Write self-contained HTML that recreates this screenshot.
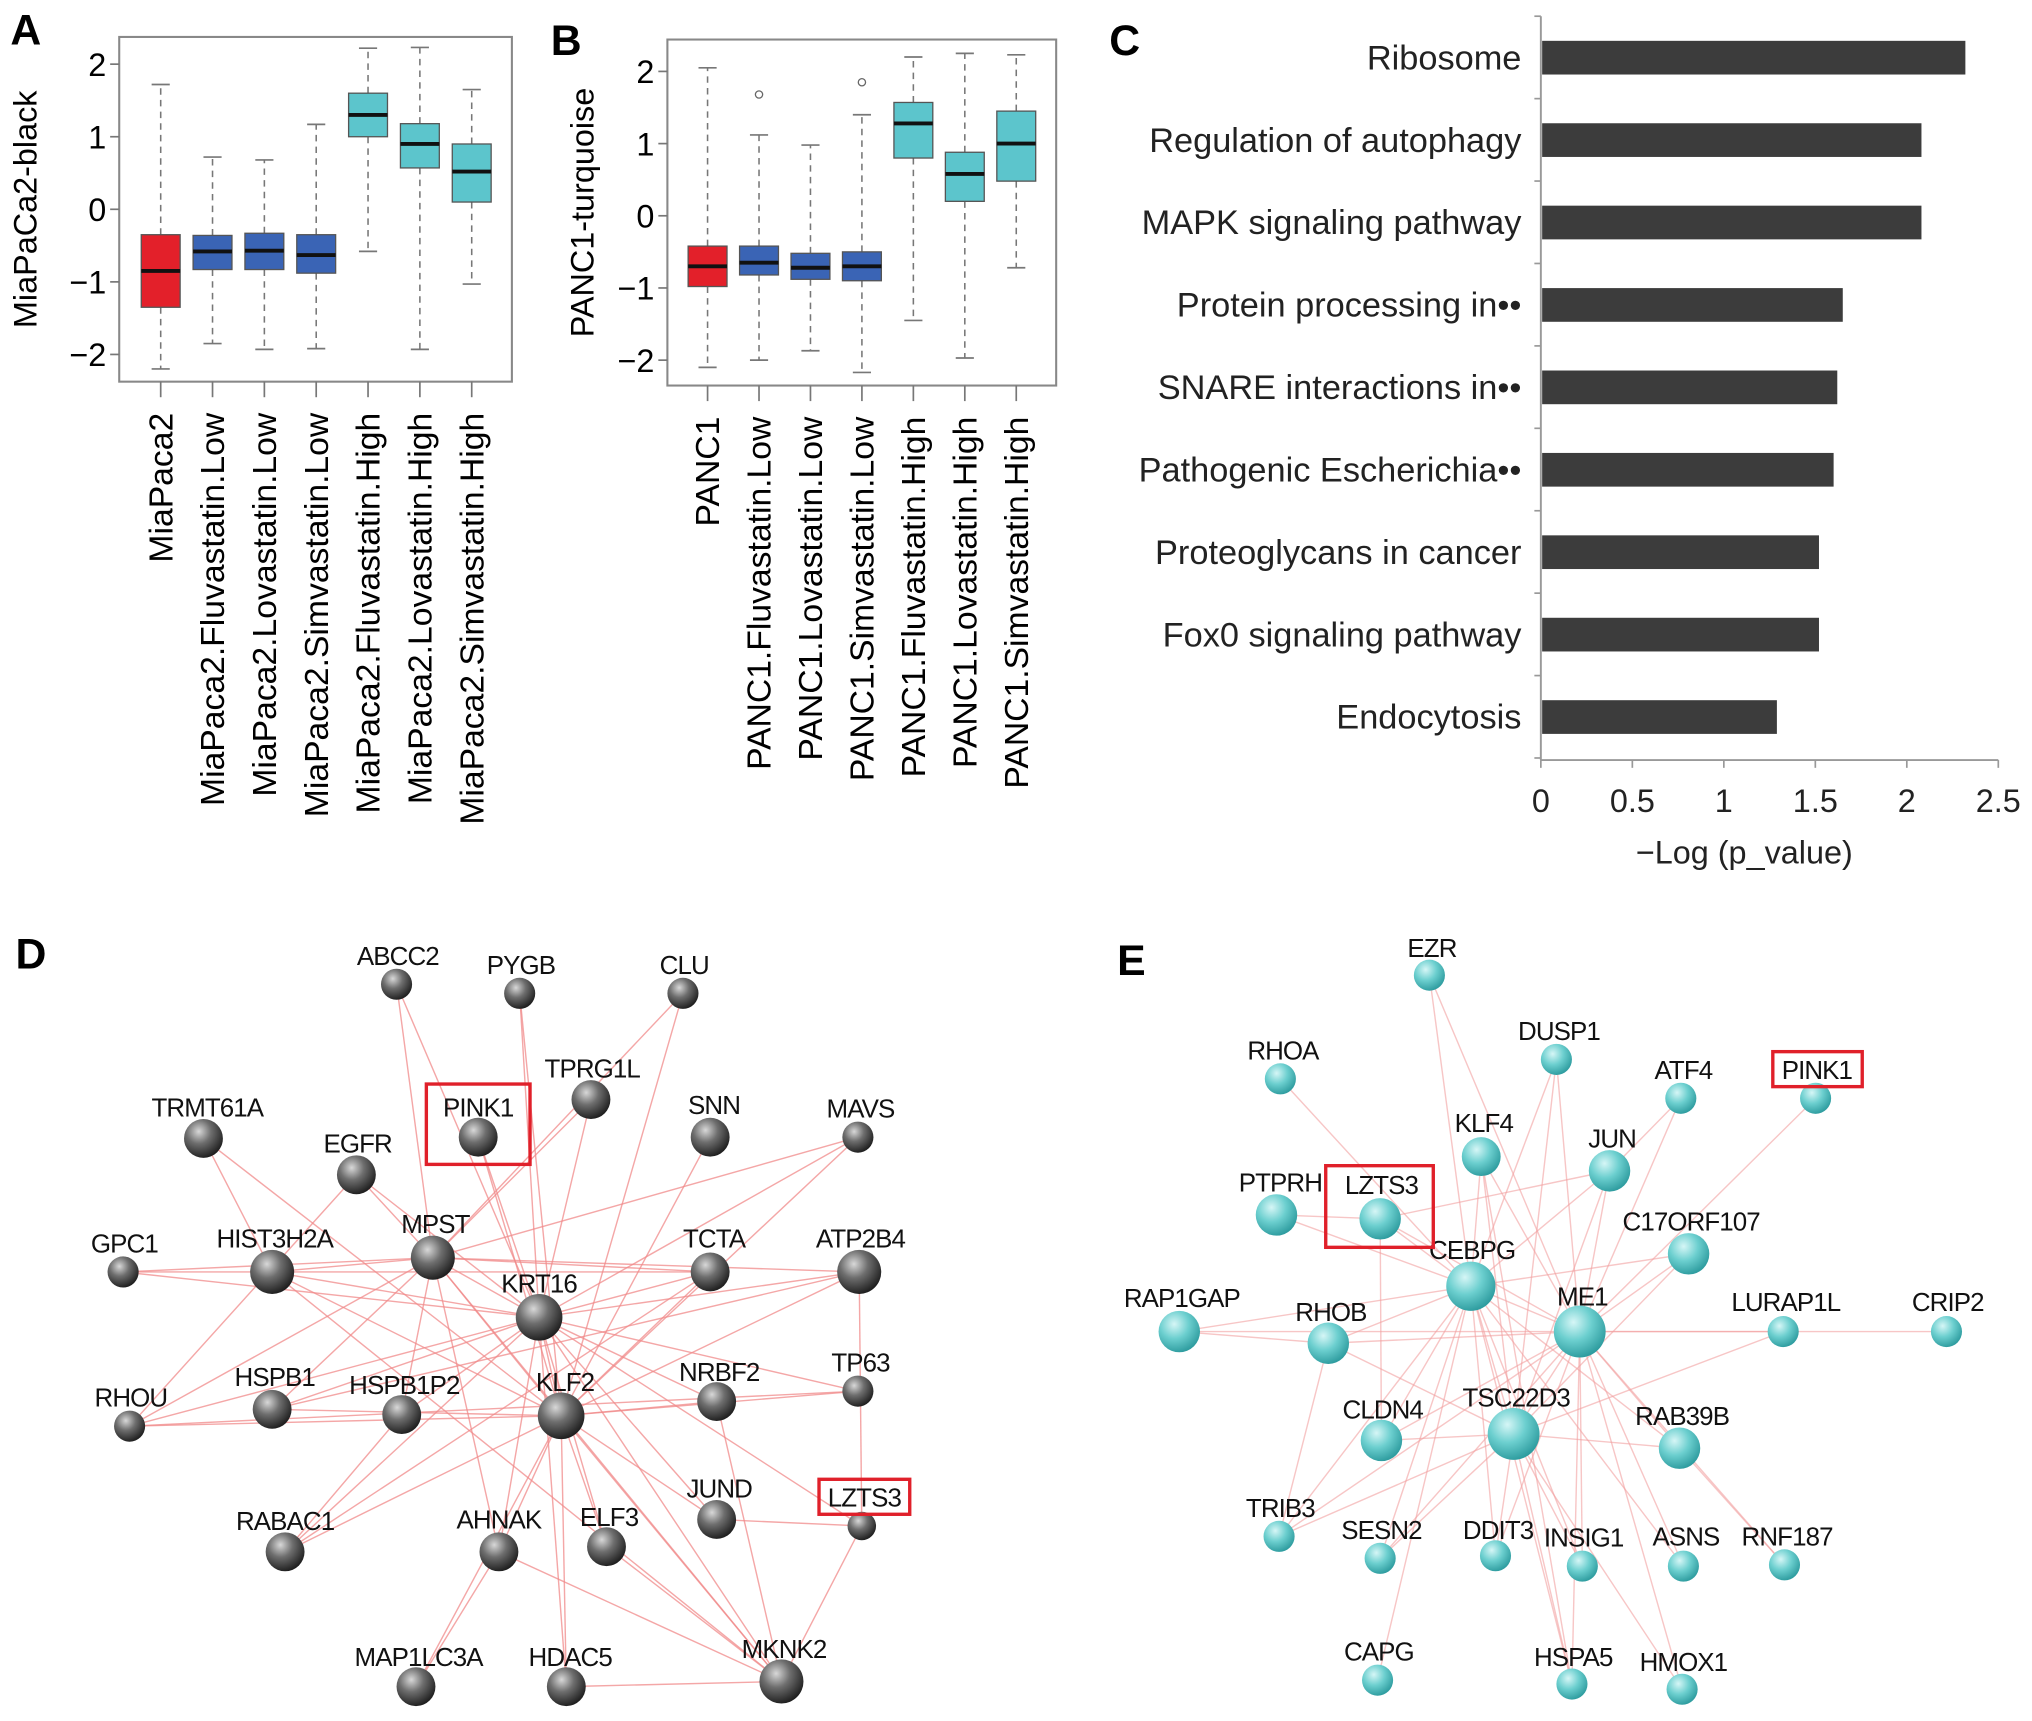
<!DOCTYPE html>
<html><head><meta charset="utf-8"><style>
html,body{margin:0;padding:0;background:#fff;}
svg{display:block;font-family:"Liberation Sans",Arial,sans-serif;}
</style></head><body>
<svg id="fig" width="2032" height="1721" viewBox="0 0 1568 1327">
<defs>
<radialGradient id="gBall" cx="0.38" cy="0.32" r="0.7"><stop offset="0" stop-color="#d8d8d8"/><stop offset="0.45" stop-color="#6e6e6e"/><stop offset="1" stop-color="#1e1e1e"/></radialGradient>
<radialGradient id="tBall" cx="0.38" cy="0.32" r="0.7"><stop offset="0" stop-color="#d6f6f6"/><stop offset="0.5" stop-color="#6ccfcf"/><stop offset="1" stop-color="#2e9c9f"/></radialGradient>
</defs>
<g id="pA"></g>
<g id="pB"></g>
<g id="pC"></g>
<g id="pD"></g>
<g id="pE"></g>
<text x="8" y="34" font-size="33" font-weight="bold">A</text>
<text x="425" y="42" font-size="33" font-weight="bold">B</text>
<text x="856" y="42" font-size="33" font-weight="bold">C</text>
<text x="12" y="747" font-size="33" font-weight="bold">D</text>
<text x="862" y="752" font-size="33" font-weight="bold">E</text>
</svg>
<script>
// ---- Panel A data ----
const aCats=["MiaPaca2","MiaPaca2.Fluvastatin.Low","MiaPaca2.Lovastatin.Low","MiaPaca2.Simvastatin.Low","MiaPaca2.Fluvastatin.High","MiaPaca2.Lovastatin.High","MiaPaca2.Simvastatin.High"];
const aMed=[-0.85,-0.58,-0.57,-0.63,1.3,0.9,0.52];
const aQ1=[-1.35,-0.83,-0.83,-0.88,1.0,0.57,0.1];
const aQ3=[-0.35,-0.36,-0.33,-0.35,1.6,1.18,0.9];
const aLo=[-2.2,-1.85,-1.93,-1.92,-0.58,-1.93,-1.03];
const aHi=[1.72,0.72,0.68,1.17,2.22,2.23,1.65];
const aOut=[[],[],[],[],[],[],[]];
// ---- Panel B data ----
const bCats=["PANC1","PANC1.Fluvastatin.Low","PANC1.Lovastatin.Low","PANC1.Simvastatin.Low","PANC1.Fluvastatin.High","PANC1.Lovastatin.High","PANC1.Simvastatin.High"];
const bMed=[-0.7,-0.65,-0.72,-0.7,1.28,0.58,1.0];
const bQ1=[-0.98,-0.82,-0.88,-0.9,0.8,0.2,0.48];
const bQ3=[-0.42,-0.42,-0.52,-0.5,1.57,0.88,1.45];
const bLo=[-2.1,-2.0,-1.87,-2.17,-1.45,-1.97,-0.72];
const bHi=[2.05,1.12,0.98,1.4,2.2,2.25,2.23];
const bOut=[[],[1.68],[],[1.85],[],[],[]];
const boxColors=["#e3202a","#3a64b5","#3a64b5","#3a64b5","#5cc5cc","#5cc5cc","#5cc5cc"];
const yTicks=[-2,-1,0,1,2];
// ---- Panel C data ----
const cCats=["Ribosome","Regulation of autophagy","MAPK signaling pathway","Protein processing in••","SNARE interactions in••","Pathogenic Escherichia••","Proteoglycans in cancer","Fox0 signaling pathway","Endocytosis"];
const cVals=[2.32,2.08,2.08,1.65,1.62,1.6,1.52,1.52,1.29];
const cTicks=["0","0.5","1","1.5","2","2.5"];

const NS="http://www.w3.org/2000/svg";
function mk(p,tag,at){const e=document.createElementNS(NS,tag);for(const k in at)e.setAttribute(k,at[k]);p.appendChild(e);return e;}

function boxplot(g,cfg,cats,med,q1,q3,lo,hi,out){
  const y=v=>cfg.y0-v*cfg.unit;
  const x=i=>cfg.x0+i*cfg.step;
  const fr=mk(g,'rect',{x:cfg.L,y:cfg.T,width:cfg.R-cfg.L,height:cfg.B-cfg.T,fill:'none',stroke:'#888','stroke-width':1.6});
  
  
  yTicks.forEach(t=>{
    mk(g,'line',{x1:cfg.L-7,x2:cfg.L,y1:y(t),y2:y(t),stroke:'#777','stroke-width':1.3});
    const tx=mk(g,'text',{x:cfg.L-10,y:y(t)+9,'font-size':25,'text-anchor':'end'});
    tx.textContent=t<0?'−'+(-t):String(t);
    
    
  });
  const yt=mk(g,'text',{x:0,y:0,'font-size':25,'text-anchor':'middle',transform:`translate(${cfg.titleX},${(cfg.T+cfg.B)/2}) rotate(-90)`});
  yt.textContent=cfg.title;
  
  
  cats.forEach((c,i)=>{
    const cx=x(i),w=30;
    mk(g,'line',{x1:cx,x2:cx,y1:cfg.B,y2:cfg.B+12,stroke:'#777','stroke-width':1.3});
    mk(g,'line',{x1:cx,x2:cx,y1:y(q3[i]),y2:y(hi[i]),stroke:'#777','stroke-width':1.2,'stroke-dasharray':'5,4'});
    mk(g,'line',{x1:cx,x2:cx,y1:y(q1[i]),y2:y(lo[i]),stroke:'#777','stroke-width':1.2,'stroke-dasharray':'5,4'});
    mk(g,'line',{x1:cx-7,x2:cx+7,y1:y(hi[i]),y2:y(hi[i]),stroke:'#777','stroke-width':1.3});
    mk(g,'line',{x1:cx-7,x2:cx+7,y1:y(lo[i]),y2:y(lo[i]),stroke:'#777','stroke-width':1.3});
    const b=mk(g,'rect',{x:cx-w/2,y:y(q3[i]),width:w,height:y(q1[i])-y(q3[i]),fill:boxColors[i],stroke:'#555','stroke-width':1});
    
    
    mk(g,'line',{x1:cx-w/2,x2:cx+w/2,y1:y(med[i]),y2:y(med[i]),stroke:'#111','stroke-width':3});
    out[i].forEach(o=>{const oc=mk(g,'circle',{cx:cx,cy:y(o),r:2.8,fill:'none',stroke:'#666','stroke-width':1});
      
      });
    const lb=mk(g,'text',{x:0,y:0,'font-size':26,'text-anchor':'end',transform:`translate(${cx+9},${cfg.B+24}) rotate(-90)`});
    lb.textContent=c;
    
    
  });
}
boxplot(document.getElementById('pA'),{L:92,R:395,T:28,B:294,y0:161,unit:56,x0:124,step:40,title:'MiaPaCa2-black',titleX:28},aCats,aMed,aQ1,aQ3,aLo,aHi,aOut);
boxplot(document.getElementById('pB'),{L:515,R:815,T:30,B:297,y0:166,unit:55.7,x0:546,step:39.7,title:'PANC1-turquoise',titleX:458},bCats,bMed,bQ1,bQ3,bLo,bHi,bOut);

// ---- Panel C ----
(function(){
  const g=document.getElementById('pC');
  const x0=1189,unit=141.2,top=12,bot=586;
  const xs=v=>x0+v*unit;
  const yc=i=>44+i*63.6;
  mk(g,'line',{x1:x0,x2:x0,y1:top,y2:bot,stroke:'#999','stroke-width':1.5});
  mk(g,'line',{x1:x0,x2:xs(2.5),y1:bot,y2:bot,stroke:'#999','stroke-width':1.5});
  for(let i=0;i<=cCats.length;i++){const yy=yc(i)-32;mk(g,'line',{x1:x0-5,x2:x0,y1:yy,y2:yy,stroke:'#999','stroke-width':1.3});}
  cTicks.forEach(t=>{const v=parseFloat(t);
    mk(g,'line',{x1:xs(v),x2:xs(v),y1:bot,y2:bot+6,stroke:'#999','stroke-width':1.3});
    const tx=mk(g,'text',{x:xs(v),y:bot+40,'font-size':25,'text-anchor':'middle',fill:'#222'});tx.textContent=t;
    
    });
  const xt=mk(g,'text',{x:1346,y:666,'font-size':25,'text-anchor':'middle',fill:'#222'});xt.textContent='−Log (p_value)';
  
  
  cCats.forEach((c,i)=>{
    const b=mk(g,'rect',{x:x0+1,y:yc(i)-13,width:xs(cVals[i])-x0-1,height:26,fill:'#3c3c3c'});
    
    
    const t=mk(g,'text',{x:1174,y:yc(i)+9,'font-size':26.5,'text-anchor':'end',fill:'#222'});t.textContent=c;
    
    
  });
})();

// ---- Networks ----
const dNodes=[["ABCC2",306,759,12],["PYGB",401,766,12],["CLU",527,766,12],["TPRG1L",456,848,15],["PINK1",369,877,15],["SNN",548,877,15],["MAVS",662,877,12],["TRMT61A",157,878,15],["EGFR",275,906,15],["GPC1",95,981,12],["HIST3H2A",210,981,17],["MPST",334,970,17],["KRT16",416,1016,18],["TCTA",548,981,15],["ATP2B4",663,981,17],["RHOU",100,1100,12],["HSPB1",210,1087,15],["HSPB1P2",310,1091,15],["KLF2",433,1092,18],["NRBF2",553,1081,15],["TP63",662,1073,12],["JUND",553,1172,15],["LZTS3",665,1177,11],["RABAC1",220,1197,15],["AHNAK",385,1197,15],["ELF3",468,1193,15],["MAP1LC3A",321,1301,15],["HDAC5",437,1301,15],["MKNK2",603,1297,17]];
const dEdges=[["KRT16","ABCC2"],["KRT16","PYGB"],["KRT16","TPRG1L"],["KRT16","PINK1"],["KRT16","EGFR"],["KRT16","MPST"],["KRT16","HIST3H2A"],["KRT16","GPC1"],["KRT16","TCTA"],["KRT16","ATP2B4"],["KRT16","MAVS"],["KRT16","NRBF2"],["KRT16","TP63"],["KRT16","HSPB1"],["KRT16","HSPB1P2"],["KRT16","KLF2"],["KRT16","JUND"],["KRT16","LZTS3"],["KRT16","AHNAK"],["KRT16","ELF3"],["KRT16","HDAC5"],["KRT16","MKNK2"],["KRT16","RABAC1"],["KRT16","RHOU"],
["KLF2","PYGB"],["KLF2","CLU"],["KLF2","SNN"],["KLF2","MAVS"],["KLF2","PINK1"],["KLF2","MPST"],["KLF2","HIST3H2A"],["KLF2","TCTA"],["KLF2","ATP2B4"],["KLF2","NRBF2"],["KLF2","TP63"],["KLF2","HSPB1"],["KLF2","RHOU"],["KLF2","AHNAK"],["KLF2","ELF3"],["KLF2","MAP1LC3A"],["KLF2","HDAC5"],["KLF2","MKNK2"],["KLF2","JUND"],["KLF2","RABAC1"],
["MPST","TPRG1L"],["MPST","CLU"],["MPST","EGFR"],["MPST","GPC1"],["MPST","HIST3H2A"],["MPST","MAVS"],["MPST","TCTA"],["MPST","HSPB1"],["MPST","HSPB1P2"],["MPST","AHNAK"],["MPST","RHOU"],["MPST","MKNK2"],["MPST","ATP2B4"],
["TRMT61A","HIST3H2A"],["TRMT61A","KLF2"],["ABCC2","MPST"],["EGFR","RHOU"],["HIST3H2A","GPC1"],["HIST3H2A","TCTA"],["HIST3H2A","MKNK2"],["ATP2B4","LZTS3"],["ATP2B4","HSPB1"],["NRBF2","MKNK2"],["JUND","LZTS3"],["HDAC5","MKNK2"],["AHNAK","MKNK2"],["LZTS3","MKNK2"],["RHOU","TP63"],["HSPB1P2","RABAC1"],["TCTA","RABAC1"],["ELF3","MKNK2"],["MAP1LC3A","AHNAK"]];
const dLabels={TRMT61A:[160,861],EGFR:[276,889],PINK1:[369,861],HIST3H2A:[212,962],MPST:[336,951],KRT16:[416,997],TCTA:[551,962],ATP2B4:[664,962],GPC1:[96,966],RHOU:[101,1085],HSPB1:[212,1069],HSPB1P2:[312,1075],KLF2:[436,1073],NRBF2:[555,1065],TP63:[664,1058],JUND:[555,1155],LZTS3:[667,1162],RABAC1:[220,1180],AHNAK:[385,1179],ELF3:[470,1177],MAP1LC3A:[323,1285],HDAC5:[440,1285],MKNK2:[605,1279],SNN:[551,859],MAVS:[664,862],TPRG1L:[457,831],CLU:[528,751],PYGB:[402,751],ABCC2:[307,744]};
const dBoxes=[[329,836,80,62],[632,1141,70,27]];

const eNodes=[["EZR",1103,752,12],["RHOA",988,832,12],["DUSP1",1201,817,12],["ATF4",1297,847,12],["PINK1",1401,847,12],["KLF4",1143,892,15],["JUN",1242,903,16],["PTPRH",985,937,16],["LZTS3",1065,940,16],["CEBPG",1135,992,19],["C17ORF107",1303,967,16],["RAP1GAP",910,1027,16],["RHOB",1025,1036,16],["ME1",1219,1027,20],["LURAP1L",1376,1027,12],["CRIP2",1502,1027,12],["CLDN4",1066,1111,16],["TSC22D3",1168,1106,20],["RAB39B",1296,1117,16],["TRIB3",987,1185,12],["SESN2",1065,1202,12],["DDIT3",1154,1200,12],["INSIG1",1221,1208,12],["ASNS",1299,1208,12],["RNF187",1377,1207,12],["CAPG",1063,1296,12],["HSPA5",1213,1299,12],["HMOX1",1298,1303,12]];
const eEdges=[["CEBPG","EZR"],["CEBPG","DUSP1"],["CEBPG","KLF4"],["CEBPG","JUN"],["CEBPG","LZTS3"],["CEBPG","PTPRH"],["CEBPG","RHOA"],["CEBPG","C17ORF107"],["CEBPG","RAP1GAP"],["CEBPG","RHOB"],["CEBPG","ME1"],["CEBPG","CLDN4"],["CEBPG","TSC22D3"],["CEBPG","RAB39B"],["CEBPG","TRIB3"],["CEBPG","SESN2"],["CEBPG","DDIT3"],["CEBPG","INSIG1"],["CEBPG","ASNS"],["CEBPG","HSPA5"],["CEBPG","CAPG"],
["ME1","EZR"],["ME1","DUSP1"],["ME1","ATF4"],["ME1","KLF4"],["ME1","JUN"],["ME1","LZTS3"],["ME1","C17ORF107"],["ME1","LURAP1L"],["ME1","CRIP2"],["ME1","RHOB"],["ME1","CLDN4"],["ME1","TSC22D3"],["ME1","RAB39B"],["ME1","SESN2"],["ME1","DDIT3"],["ME1","INSIG1"],["ME1","ASNS"],["ME1","RNF187"],["ME1","HSPA5"],["ME1","HMOX1"],["ME1","TRIB3"],
["TSC22D3","KLF4"],["TSC22D3","JUN"],["TSC22D3","DUSP1"],["TSC22D3","C17ORF107"],["TSC22D3","LURAP1L"],["TSC22D3","CLDN4"],["TSC22D3","SESN2"],["TSC22D3","DDIT3"],["TSC22D3","INSIG1"],["TSC22D3","HSPA5"],["TSC22D3","HMOX1"],["TSC22D3","RAB39B"],["TSC22D3","RHOB"],["TSC22D3","TRIB3"],
["RAP1GAP","RHOB"],["RAP1GAP","ME1"],["PINK1","ME1"],["LZTS3","JUN"],["LZTS3","CLDN4"],["PTPRH","LZTS3"],["RAB39B","RNF187"],["RHOB","TRIB3"],["JUN","ATF4"],["KLF4","HSPA5"]];
const eLabels={EZR:[1105,738],RHOA:[990,817],DUSP1:[1203,802],ATF4:[1299,832],PINK1:[1402,832],KLF4:[1145,873],JUN:[1244,885],PTPRH:[988,919],LZTS3:[1066,921],CEBPG:[1136,971],C17ORF107:[1305,949],RAP1GAP:[912,1008],RHOB:[1027,1019],ME1:[1221,1007],LURAP1L:[1378,1011],CRIP2:[1503,1011],CLDN4:[1067,1094],TSC22D3:[1170,1085],RAB39B:[1298,1099],TRIB3:[988,1170],SESN2:[1066,1187],DDIT3:[1156,1187],INSIG1:[1222,1193],ASNS:[1301,1192],RNF187:[1379,1192],CAPG:[1064,1281],HSPA5:[1214,1285],HMOX1:[1299,1289]};
const eBoxes=[[1368,811,69,27],[1023,899,83,63]];

function network(g,nodes,edges,labels,boxes,fill,edgeCol,edgeOp){
  const idx={};nodes.forEach(n=>idx[n[0]]=n);
  edges.forEach(e=>{const a=idx[e[0]],b=idx[e[1]];
    const l=mk(g,'line',{x1:a[1],y1:a[2],x2:b[1],y2:b[2],stroke:edgeCol,'stroke-width':1.1,'stroke-opacity':edgeOp});
    
    });
  nodes.forEach(n=>{
    const c=mk(g,'circle',{cx:n[1],cy:n[2],r:n[3],fill:fill});
    
    
    const p=labels[n[0]];
    const t=mk(g,'text',{x:p[0],y:p[1],'font-size':20,'text-anchor':'middle',fill:'#111','letter-spacing':'-0.7'});
    t.textContent=n[0];
    
    
  });
  boxes.forEach(b=>{const r=mk(g,'rect',{x:b[0],y:b[1],width:b[2],height:b[3],fill:'none',stroke:'#e0202a','stroke-width':2.6});
    
    });
}
network(document.getElementById('pD'),dNodes,dEdges,dLabels,dBoxes,'url(#gBall)','#f08a8a',0.75);
network(document.getElementById('pE'),eNodes,eEdges,eLabels,eBoxes,'url(#tBall)','#f2a0a0',0.6);
</script>
</body></html>
